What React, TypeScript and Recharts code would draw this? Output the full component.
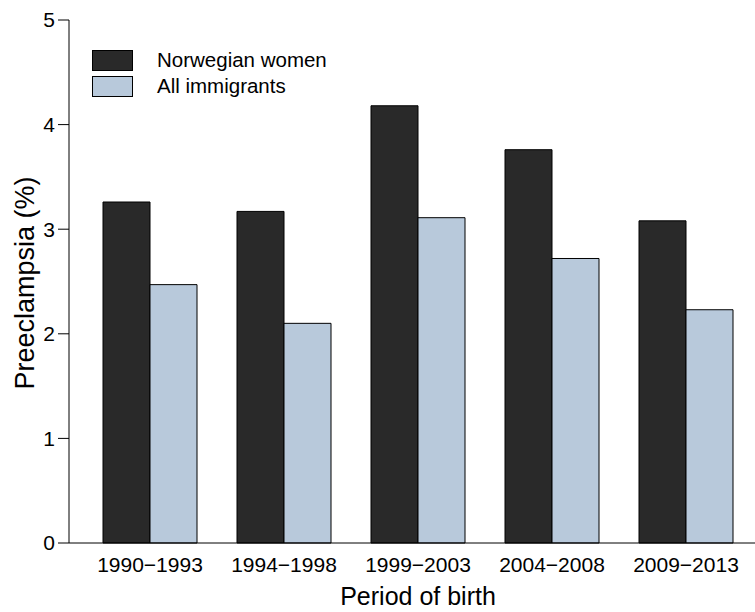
import React from "react";
import { BarChart, Bar, XAxis, YAxis, Legend, Label } from "recharts";

const periods = ["1990−1993", "1994−1998", "1999−2003", "2004−2008", "2009−2013"];
const norwegianWomen = [3.26, 3.17, 4.18, 3.76, 3.08];
const allImmigrants = [2.47, 2.1, 3.11, 2.72, 2.23];
const seriesNames = ["Norwegian women", "All immigrants"];
const yTicks = [0, 1, 2, 3, 4, 5];

const data = periods.map((period, i) => ({
  period,
  norwegian: norwegianWomen[i],
  immigrants: allImmigrants[i],
}));

const FONT = '"Liberation Sans", Arial, Helvetica, sans-serif';

const LegendBox = (props: any) => {
  const items = [...(props.payload || [])].sort(
    (a: any, b: any) => seriesNames.indexOf(a.value) - seriesNames.indexOf(b.value)
  );
  return (
    <div style={{ fontFamily: FONT, fontSize: 20.5, color: "#000" }}>
      {items.map((entry: any, i: number) => (
        <div
          key={entry.value}
          style={{ position: "absolute", left: 92, top: 49 + i * 26, height: 22, display: "flex", alignItems: "center" }}
        >
          <div
            style={{
              width: 41,
              height: 21,
              background: entry.color,
              border: "1px solid #000",
              boxSizing: "border-box",
            }}
          />
          <span style={{ marginLeft: 24, whiteSpace: "nowrap", lineHeight: "22px" }}>{entry.value}</span>
        </div>
      ))}
    </div>
  );
};

export default function App() {
  return (
    <div style={{ position: "absolute", left: 0, top: 0, background: "#fff" }}>
      <BarChart
        width={755}
        height={612}
        data={data}
        margin={{ top: 20, right: 0, left: 0, bottom: 0 }}
        barCategoryGap={20}
        barGap={0}
      >
        <XAxis
          dataKey="period"
          height={69}
          padding={{ left: 14, right: 2 }}
          axisLine={{ stroke: "#000", strokeWidth: 1 }}
          tickLine={false}
          tickSize={0}
          tickMargin={14}
          tick={{ fill: "#000", fontSize: 21, fontFamily: FONT }}
          interval={0}
        >
          <Label
            content={() => (
              <text x={418} y={605} textAnchor="middle" fontSize={25} fontFamily={FONT} fill="#000">
                Period of birth
              </text>
            )}
          />
        </XAxis>
        <YAxis
          type="number"
          width={69}
          domain={[0, 5]}
          ticks={yTicks}
          interval={0}
          axisLine={{ stroke: "#000", strokeWidth: 1 }}
          tickLine={{ stroke: "#000", strokeWidth: 1 }}
          tickSize={11}
          tickMargin={3}
          tick={{ fill: "#000", fontSize: 21, fontFamily: FONT }}
        >
          <Label
            content={() => (
              <text
                x={34}
                y={283}
                transform="rotate(-90, 34, 283)"
                textAnchor="middle"
                fontSize={27}
                fontFamily={FONT}
                fill="#000"
              >
                Preeclampsia (%)
              </text>
            )}
          />
        </YAxis>
        <Legend
          layout="vertical"
          align="center"
          verticalAlign="middle"
          wrapperStyle={{ position: "absolute", left: 0, top: 0, width: 0, height: 0 }}
          content={LegendBox}
        />
        <Bar
          dataKey="norwegian"
          name="Norwegian women"
          fill="#292929"
          stroke="#000"
          strokeWidth={1}
          isAnimationActive={false}
        />
        <Bar
          dataKey="immigrants"
          name="All immigrants"
          fill="#b8c9db"
          stroke="#000"
          strokeWidth={1}
          isAnimationActive={false}
        />
      </BarChart>
    </div>
  );
}
